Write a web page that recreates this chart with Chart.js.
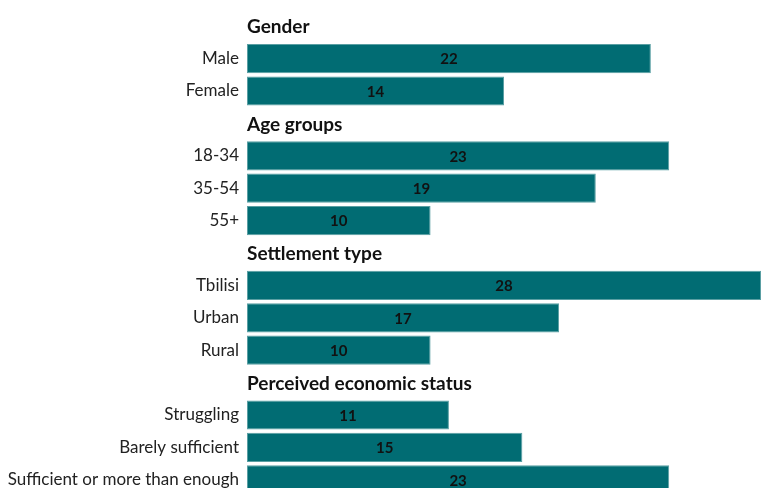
<!DOCTYPE html>
<html>
<head>
<meta charset="utf-8">
<script src="https://cdn.jsdelivr.net/npm/chart.js@4/dist/chart.umd.min.js"></script>
<style>
  html, body { margin: 0; padding: 0; background: #fff; overflow: hidden; }
  #wrap { position: absolute; left: 0; top: 0; width: 761px; height: 496px; }
</style>
</head>
<body>
<div id="wrap"><canvas id="barChart"></canvas></div>
<script>
// group headings and their rows
var groupTitles = ["Gender", "Age groups", "Settlement type", "Perceived economic status"];

var genderLabels = ["Male", "Female"];
var genderValues = [22, 14];

var ageLabels = ["18-34", "35-54", "55+"];
var ageValues = [23, 19, 10];

var settlementLabels = ["Tbilisi", "Urban", "Rural"];
var settlementValues = [28, 17, 10];

var economicLabels = ["Struggling", "Barely sufficient", "Sufficient or more than enough"];
var economicValues = [11, 15, 23];

var groupLabels = [genderLabels, ageLabels, settlementLabels, economicLabels];
var groupValues = [genderValues, ageValues, settlementValues, economicValues];

// flatten: each group gets a heading row with no bar
var rowLabels = [];
var rowValues = [];
var headingRows = {};
groupTitles.forEach(function (title, g) {
  headingRows[rowLabels.length] = title;
  rowLabels.push("");
  rowValues.push(null);
  groupLabels[g].forEach(function (lab, i) {
    rowLabels.push(lab);
    rowValues.push(groupValues[g][i]);
  });
});

var labelPlugin = {
  id: "rowText",
  afterDatasetsDraw: function (chart) {
    var ctx = chart.ctx;
    var yScale = chart.scales.y;
    var area = chart.chartArea;
    ctx.save();
    ctx.textBaseline = "middle";

    // group headings
    ctx.font = "bold 19px Lato";
    ctx.fillStyle = "#111";
    ctx.textAlign = "left";
    Object.keys(headingRows).forEach(function (idx) {
      ctx.fillText(headingRows[idx], area.left, yScale.getPixelForValue(Number(idx)) + 1);
    });

    // value labels in the middle of each bar
    ctx.font = "bold 15px Lato";
    ctx.textAlign = "center";
    var meta = chart.getDatasetMeta(0);
    meta.data.forEach(function (bar, i) {
      if (rowValues[i] == null) return;
      var props = bar.getProps(["x", "y", "base"], true);
      ctx.fillText(String(rowValues[i]), (props.x + props.base) / 2, props.y + 1);
    });
    ctx.restore();
  },
};

new Chart("barChart", {
  type: "bar",
  data: {
    labels: rowLabels,
    datasets: [
      {
        data: rowValues,
        backgroundColor: "#016c73",
        borderColor: "#5a9fa3",
        borderWidth: 1,
        borderSkipped: false,
        barPercentage: 0.9,
        categoryPercentage: 1,
      },
    ],
  },
  options: {
    indexAxis: "y",
    responsive: true,
    maintainAspectRatio: false,
    animation: false,
    layout: { padding: { top: 10, right: 0, bottom: 0, left: 0 } },
    plugins: {
      legend: { display: false },
      tooltip: { enabled: false },
    },
    scales: {
      x: {
        display: false,
        min: 0,
        max: 28,
      },
      y: {
        grid: { display: false, drawTicks: false },
        border: { display: false },
        ticks: {
          padding: 8,
          color: "#222",
          font: { family: "Lato", size: 17 },
        },
        afterFit: function (scale) {
          scale.width = 247;
          scale.paddingTop = 0;
          scale.paddingBottom = 0;
        },
      },
    },
  },
  plugins: [labelPlugin],
});
</script>
</body>
</html>
